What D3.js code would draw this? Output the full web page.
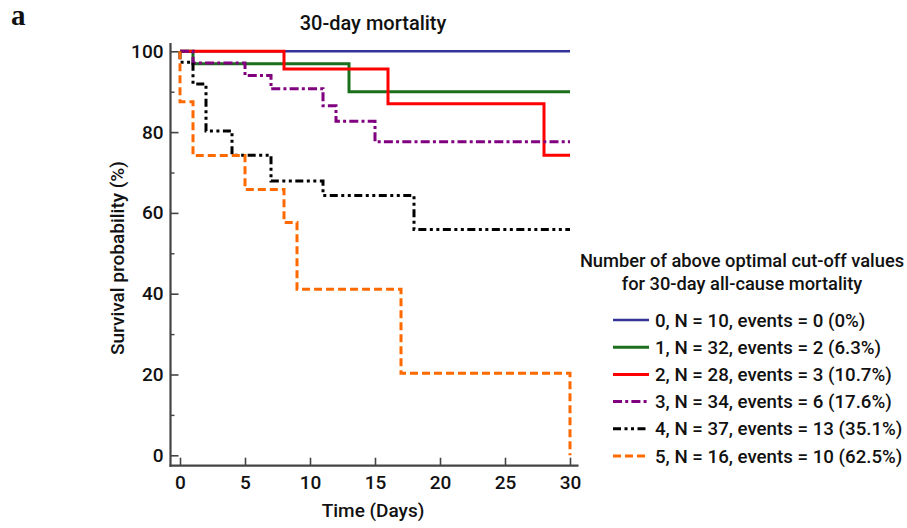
<!DOCTYPE html>
<html>
<head>
<meta charset="utf-8">
<script src="https://cdn.jsdelivr.net/npm/d3@7"></script>
<style>
  html, body { margin: 0; padding: 0; background: #fff; }
  svg { display: block; }
  text { font-family: "Roboto", "Liberation Sans", sans-serif; fill: #111; }
</style>
</head>
<body>
<svg id="chart" width="907" height="528"></svg>
<script>
// ---- Data ----
const groupLabels = [
  "0, N = 10, events = 0 (0%)",
  "1, N = 32, events = 2 (6.3%)",
  "2, N = 28, events = 3 (10.7%)",
  "3, N = 34, events = 6 (17.6%)",
  "4, N = 37, events = 13 (35.1%)",
  "5, N = 16, events = 10 (62.5%)"
];
// step times (days) and survival (%) after each step
const times0 = [0, 30];
const surv0  = [100, 100];
const times1 = [0, 1, 13, 30];
const surv1  = [100, 96.9, 90.0, 90.0];
const times2 = [0, 8, 16, 28, 30];
const surv2  = [100, 95.6, 87.0, 74.3, 74.3];
const times3 = [0, 1, 5, 7, 11, 12, 15, 30];
const surv3  = [100, 97.1, 94.0, 90.7, 86.5, 82.7, 77.6, 77.6];
const times4 = [0, 0, 1, 2, 4, 7, 11, 18, 30];
const surv4  = [100, 97.3, 91.9, 80.3, 74.3, 67.9, 64.3, 55.9, 55.9];
const times5 = [0, 0, 1, 5, 8, 9, 17, 30];
const surv5  = [100, 87.5, 74.2, 65.8, 57.6, 41.1, 20.3, 0];

const xTicks = [0, 5, 10, 15, 20, 25, 30];
const yTicks = [0, 20, 40, 60, 80, 100];
const yMinorTicks = [10, 30, 50, 70, 90];

const titleText = "30-day mortality";
const xLabel = "Time (Days)";
const yLabel = "Survival probability (%)";
const legendTitle = ["Number of above optimal cut-off values", "for 30-day all-cause mortality"];
const panelLetter = "a";

// ---- Styles ----
const colors = ["#33339a", "#1b6e1b", "#ff0000", "#800080", "#000000", "#ff6a00"];
const dashes = [null, null, null, "9,3.2,3,3.2", "8,3.5,3,3.5,3,3.5", "8,4"];
const widths = [2.6, 3, 3, 3, 3, 3];

const svg = d3.select("#chart");

const x = d3.scaleLinear().domain([0, 30]).range([180, 570]);
const y = d3.scaleLinear().domain([0, 100]).range([455.3, 51.3]);

const axisX = 170.5, axisY = 465.7;
const axisColor = "#444";

// panel letter
svg.append("text").attr("x", 11).attr("y", 25)
  .style("font-family", '"Liberation Serif", "DejaVu Serif", serif')
  .style("font-weight", "bold").style("font-size", "29px").text(panelLetter);

// title
svg.append("text").attr("x", 373).attr("y", 29.5).attr("text-anchor", "middle")
  .style("font-size", "20px").style("font-weight", 500).text(titleText);

// axes lines
svg.append("line").attr("x1", axisX).attr("x2", axisX).attr("y1", 43).attr("y2", axisY + 1)
  .attr("stroke", axisColor).attr("stroke-width", 2.2);
svg.append("line").attr("x1", axisX - 1).attr("x2", 578.5).attr("y1", axisY).attr("y2", axisY)
  .attr("stroke", axisColor).attr("stroke-width", 2.2);

// y axis ticks
const gy = svg.append("g").attr("transform", `translate(${axisX},0)`)
  .call(d3.axisLeft(y).tickValues(yTicks).tickSizeInner(-8).tickSizeOuter(0).tickPadding(7));
gy.select(".domain").remove();
gy.selectAll(".tick line").attr("stroke", axisColor).attr("stroke-width", 1.6);
gy.selectAll(".tick text").style("font-size", "19px").style("font-family", '"Roboto", "Liberation Sans", sans-serif')
  .style("font-weight", 500).attr("fill", "#111");

const gyMinor = svg.append("g").attr("transform", `translate(${axisX},0)`)
  .call(d3.axisLeft(y).tickValues(yMinorTicks).tickSizeInner(-4).tickSizeOuter(0).tickFormat(""));
gyMinor.select(".domain").remove();
gyMinor.selectAll(".tick line").attr("stroke", axisColor).attr("stroke-width", 1.4);

// x axis ticks
const gx = svg.append("g").attr("transform", `translate(0,${axisY})`)
  .call(d3.axisBottom(x).tickValues(xTicks).tickSizeInner(-8).tickSizeOuter(0).tickPadding(10));
gx.select(".domain").remove();
gx.selectAll(".tick line").attr("stroke", axisColor).attr("stroke-width", 1.6);
gx.selectAll(".tick text").style("font-size", "19px").style("font-family", '"Roboto", "Liberation Sans", sans-serif')
  .style("font-weight", 500).attr("fill", "#111");

// axis labels
svg.append("text").attr("x", 373).attr("y", 517).attr("text-anchor", "middle")
  .style("font-size", "19px").style("font-weight", 500).text(xLabel);
svg.append("text").attr("transform", "translate(124,258) rotate(-90)").attr("text-anchor", "middle")
  .style("font-size", "19px").style("font-weight", 500).text(yLabel);

// curves
const series = [
  [times0, surv0], [times1, surv1], [times2, surv2],
  [times3, surv3], [times4, surv4], [times5, surv5]
];
const line = d3.line().x(d => x(d[0])).y(d => y(d[1])).curve(d3.curveStepAfter);
series.forEach(([t, s], i) => {
  const pts = t.map((v, k) => [v, s[k]]);
  svg.append("path").datum(pts).attr("d", line)
    .attr("fill", "none").attr("stroke", colors[i]).attr("stroke-width", widths[i])
    .attr("stroke-dasharray", dashes[i]).attr("stroke-linejoin", "miter").attr("stroke-linecap", "butt");
});

// legend
const lg = svg.append("g");
legendTitle.forEach((txt, i) => {
  lg.append("text").attr("x", 742).attr("y", 266.5 + i * 23.5).attr("text-anchor", "middle")
    .style("font-size", "18.3px").style("font-weight", 500).text(txt);
});
groupLabels.forEach((lab, i) => {
  const yy = 320 + i * 27.2;
  lg.append("line").attr("x1", 613).attr("x2", 649).attr("y1", yy).attr("y2", yy)
    .attr("stroke", colors[i]).attr("stroke-width", widths[i]).attr("stroke-dasharray", dashes[i]);
  lg.append("text").attr("x", 655).attr("y", yy + 6.5)
    .style("font-size", "18.7px").style("font-weight", 500).text(lab);
});
</script>
</body>
</html>
